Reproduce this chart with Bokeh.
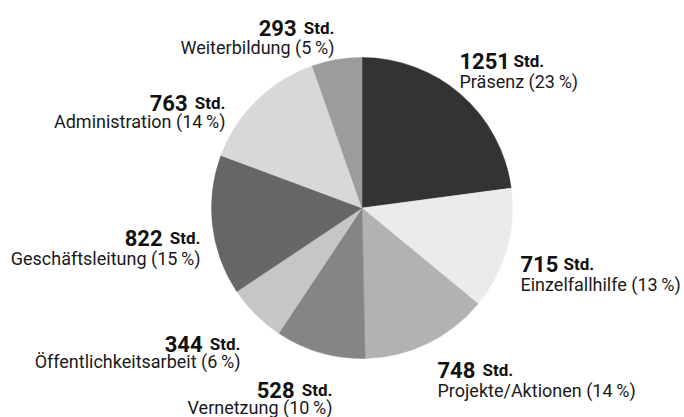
import math
from bokeh.plotting import figure
from bokeh.models import Range1d, ColumnDataSource
from bokeh.core.properties import value
from bokeh.embed import file_html
from bokeh.resources import INLINE

# ---- data ----
categories = ["Präsenz", "Einzelfallhilfe", "Projekte/Aktionen", "Vernetzung",
              "Öffentlichkeitsarbeit", "Geschäftsleitung", "Administration", "Weiterbildung"]
hours = [1251, 715, 748, 528, 344, 822, 763, 293]
percents = [23, 13, 14, 10, 6, 15, 14, 5]
colors = ["#333333", "#ebebeb", "#b2b2b2", "#858585",
          "#c6c6c6", "#666666", "#d8d8d8", "#9c9c9c"]

# ---- layout (pixel positions, top-left origin) ----
# (anchor_x, align, number_baseline, text_baseline, std_offset)
layout = [
    (459, "left", 60, 81, 54),
    (520, "left", 263, 284, 43),
    (437, "left", 369, 390, 45),
    (332, "right", 389, 407, 0),
    (240, "right", 343, 361, 0),
    (200, "right", 237, 258, 0),
    (225, "right", 102, 121, 0),
    (334, "right", 27, 47, 0),
]

W, H = 684, 417
CX, CY, R = 361.5, 207.5, 150.5

p = figure(width=W, height=H, output_backend="svg", toolbar_location=None,
           x_range=Range1d(0, W), y_range=Range1d(0, H), min_border=0,
           outline_line_color=None, background_fill_color="white")
p.axis.visible = False
p.grid.visible = False

total = sum(hours)
starts, ends = [], []
acc = 0.0
for h in hours:
    a0 = math.pi / 2 - 2 * math.pi * acc / total
    acc += h
    a1 = math.pi / 2 - 2 * math.pi * acc / total
    starts.append(a0)
    ends.append(a1)

src = ColumnDataSource(dict(start=starts, end=ends, color=colors))
p.wedge(x=CX, y=H - CY, radius=R, radius_units="screen", start_angle="start",
        end_angle="end", direction="clock", fill_color="color",
        line_color="color", line_width=0.5, source=src)

font = value("Roboto")
for cat, h, pc, (ax, al, nb, tb, so) in zip(categories, hours, percents, layout):
    label = f"{cat} ({pc}\u2009%)"
    if al == "left":
        nx, sx, sal = ax, ax + so, "left"
        nal = "left"
    else:
        nx, sx, sal = ax - 38, ax, "right"
        nal = "right"
    p.text(x=[nx], y=[H - nb], text=[str(h)], text_font=font, text_font_size="22px",
           text_font_style="bold", text_align=nal, text_baseline="alphabetic",
           text_color="#111111")
    p.text(x=[sx], y=[H - nb], text=["Std."], text_font=font, text_font_size="17px",
           text_font_style="bold", text_align=sal, text_baseline="alphabetic",
           text_color="#111111")
    p.text(x=[ax], y=[H - tb], text=[label], text_font=font, text_font_size="18px",
           text_align=al, text_baseline="alphabetic", text_color="#1a1a1a")

open("out.html", "w").write(file_html(p, INLINE))
